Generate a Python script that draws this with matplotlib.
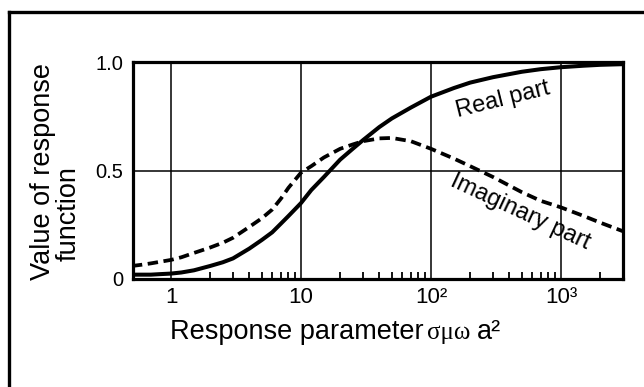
import matplotlib
matplotlib.use("Agg")
import matplotlib.pyplot as plt
from matplotlib.lines import Line2D
from matplotlib.ticker import FixedLocator, FixedFormatter, NullFormatter

plt.rcParams['font.family'] = ['Liberation Sans', 'DejaVu Sans']
plt.rcParams['lines.scale_dashes'] = False

# Response parameter (sigma*mu*omega*a^2)
param = [0.5, 0.6, 0.7, 0.8, 1, 1.2, 1.5, 2, 2.5, 3, 4, 5, 6, 7, 8, 10, 12,
         15, 20, 25, 30, 40, 50, 70, 100, 150, 200, 300, 500, 700, 1000,
         1500, 2000, 3000]
real_part = [0.02, 0.02, 0.02, 0.022, 0.025, 0.03, 0.04, 0.06, 0.077, 0.095,
             0.14, 0.18, 0.215, 0.255, 0.29, 0.35, 0.41, 0.47, 0.55, 0.60,
             0.64, 0.70, 0.74, 0.79, 0.84, 0.88, 0.905, 0.93, 0.955, 0.967,
             0.976, 0.983, 0.987, 0.99]
imag_part = [0.06, 0.066, 0.072, 0.078, 0.088, 0.10, 0.12, 0.145, 0.167,
             0.19, 0.24, 0.28, 0.32, 0.37, 0.42, 0.49, 0.52, 0.56, 0.60,
             0.62, 0.635, 0.648, 0.65, 0.635, 0.60, 0.555, 0.52, 0.47, 0.40,
             0.36, 0.33, 0.29, 0.26, 0.22]

x_ticks = [1, 10, 100, 1000]
x_tick_labels = ['1', '10', '10²', '10³']
y_ticks = [0, 0.5, 1.0]
y_tick_labels = ['0', '0.5', '1.0']

W, H = 644, 387
fig = plt.figure(figsize=(W / 100, H / 100), dpi=100)
ax = fig.add_axes([133 / W, 1 - 279 / H, (623 - 133) / W, (279 - 62) / H])

ax.set_xscale('log')
ax.set_xlim(0.51, 3000)
ax.set_ylim(0, 1.0)

ax.plot(param, real_part, color='black', lw=2.9, solid_capstyle='butt',
        solid_joinstyle='round')
ax.plot(param, imag_part, color='black', lw=2.7, linestyle=(0, (7.5, 4)))

# grid at decades and at 0.5
ax.xaxis.set_major_locator(FixedLocator(x_ticks))
ax.xaxis.set_major_formatter(FixedFormatter(x_tick_labels))
ax.xaxis.set_minor_locator(FixedLocator(
    [m * 10 ** e for e in range(0, 4) for m in range(2, 10) if m * 10 ** e <= 3000]))
ax.xaxis.set_minor_formatter(NullFormatter())
ax.yaxis.set_major_locator(FixedLocator(y_ticks))
ax.yaxis.set_major_formatter(FixedFormatter(y_tick_labels))
ax.grid(True, which='major', color='black', lw=1.1)

ax.tick_params(axis='x', which='major', length=0, labelsize=16, pad=6)
ax.tick_params(axis='x', which='minor', direction='in', length=5, width=1.3,
               top=False)
ax.tick_params(axis='y', which='major', length=0, labelsize=14.5, pad=7)
for s in ax.spines.values():
    s.set_linewidth(2.3)

ax.text(358, 0.825, 'Real part', fontsize=17, rotation=14,
        ha='center', va='center', rotation_mode='anchor')
ax.text(484, 0.31, 'Imaginary part', fontsize=17, rotation=-25,
        ha='center', va='center', rotation_mode='anchor')

# y label in two lines
fig.text(43 / W, 1 - 172 / H, 'Value of response', fontsize=19.5,
         rotation=90, ha='center', va='center')
fig.text(69 / W, 1 - 214 / H, 'function', fontsize=19.5,
         rotation=90, ha='center', va='center')

# x label built from pieces so the Greek symbols get a serif face
base_y = 1 - 339 / H
t1 = fig.text(170 / W, base_y, 'Response parameter', fontsize=19.5,
              va='baseline', ha='left')
fig.canvas.draw()
bb = t1.get_window_extent()
t2 = fig.text(bb.x1 / W + 3 / W, base_y, 'σμω', fontsize=18,
              family='Liberation Serif', va='baseline', ha='left')
fig.canvas.draw()
bb2 = t2.get_window_extent()
fig.text(bb2.x1 / W + 7 / W, base_y, 'a²', fontsize=19.5,
         va='baseline', ha='left')

# page frame
fig.add_artist(Line2D([9 / W, 9 / W], [0, 1 - 12 / H], transform=fig.transFigure,
                      color='black', lw=2.4))
fig.add_artist(Line2D([9 / W, 1], [1 - 12 / H, 1 - 12 / H], transform=fig.transFigure,
                      color='black', lw=2.4))

fig.savefig('out.png', dpi=100)
